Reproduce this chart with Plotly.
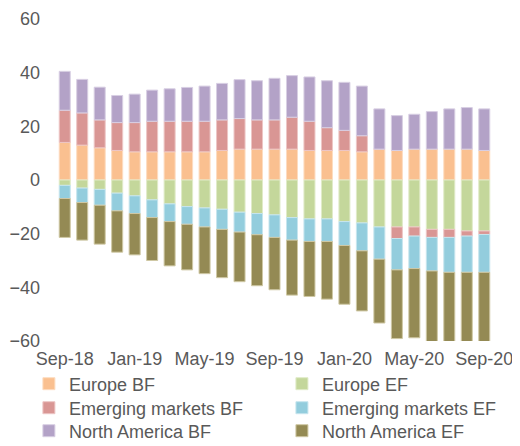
import plotly.graph_objects as go

months = ["Sep-18", "Oct-18", "Nov-18", "Dec-18", "Jan-19", "Feb-19", "Mar-19", "Apr-19",
          "May-19", "Jun-19", "Jul-19", "Aug-19", "Sep-19", "Oct-19", "Nov-19", "Dec-19",
          "Jan-20", "Feb-20", "Mar-20", "Apr-20", "May-20", "Jun-20", "Jul-20", "Aug-20", "Sep-20"]
tick_labels = ["Sep-18", "Jan-19", "May-19", "Sep-19", "Jan-20", "May-20", "Sep-20"]

europe_bf = [14.0, 13.0, 12.0, 11.0, 10.5, 10.5, 10.5, 10.5, 10.5, 11.0, 11.5, 11.5, 11.5,
             11.5, 11.0, 11.0, 11.0, 10.5, 11.5, 11.0, 11.5, 11.5, 11.5, 11.5, 11.0]
europe_ef = [-2.0, -3.0, -3.5, -4.9, -5.9, -7.4, -8.9, -9.9, -10.4, -10.9, -12.0, -12.5, -13.0,
             -14.0, -14.5, -14.5, -15.5, -16.0, -17.5, -17.5, -17.5, -18.4, -18.4, -19.0, -19.0]
em_bf = [12.0, 12.0, 10.4, 10.4, 10.9, 11.4, 11.4, 11.4, 11.4, 11.4, 11.4, 10.9, 10.9,
         11.9, 10.9, 8.5, 7.5, 6.0, 0.0, -4.3, -3.4, -3.0, -3.0, -1.9, -1.3]
em_ef = [-4.9, -5.4, -5.9, -6.6, -6.6, -6.6, -6.6, -6.6, -7.1, -7.5, -7.4, -7.9, -8.4,
         -8.4, -8.4, -8.4, -8.9, -10.4, -12.0, -11.7, -12.1, -12.5, -13.0, -13.5, -14.1]
na_bf = [14.5, 12.5, 12.2, 10.1, 10.6, 11.6, 12.1, 12.6, 13.1, 13.6, 14.5, 14.6, 15.5,
         15.5, 16.5, 17.5, 17.9, 18.5, 15.0, 13.0, 13.0, 14.0, 15.0, 15.5, 15.5]
na_ef = [-14.5, -14.0, -14.5, -15.4, -15.4, -16.0, -16.5, -17.0, -17.4, -18.0, -18.5, -19.0, -19.5,
         -20.5, -20.5, -21.5, -21.9, -22.4, -23.8, -25.6, -25.8, -27.5, -27.0, -27.0, -27.0]

series = [
    ("Europe BF", europe_bf, "#FAC090", "#FDDCC0"),
    ("Europe EF", europe_ef, "#C4D79B", "#E0EBC8"),
    ("Emerging markets BF", em_bf, "#D99694", "#EDC6C5"),
    ("Emerging markets EF", em_ef, "#93CDDD", "#C6E5EE"),
    ("North America BF", na_bf, "#B3A2C7", "#D8CFE3"),
    ("North America EF", na_ef, "#948A54", "#CFC8A4"),
]

font_family = "Liberation Sans, Arial, sans-serif"
grey = "#595959"

# one legend per entry, laid out as 2 columns x 3 rows
legend_ids = ["legend", "legend2", "legend3", "legend4", "legend5", "legend6"]
col_x = [-0.062, 0.517]
row_y = [-0.1335, -0.2081, -0.2795]

fig = go.Figure()
for i, (name, vals, col, edge) in enumerate(series):
    fig.add_trace(go.Bar(
        x=months, y=vals, name=name, legend=legend_ids[i],
        marker=dict(color=col, line=dict(color=edge, width=1)),
    ))

legend_layout = {}
for i, lid in enumerate(legend_ids):
    legend_layout[lid] = dict(
        x=col_x[i % 2], xanchor="left",
        y=row_y[i // 2], yanchor="middle",
        orientation="v",
        font=dict(family=font_family, size=18, color=grey),
        bgcolor="rgba(0,0,0,0)", borderwidth=0,
    )

fig.update_layout(
    width=512, height=438,
    barmode="relative",
    bargap=0.37,
    plot_bgcolor="white", paper_bgcolor="white",
    margin=dict(l=48, r=27, t=11, b=105, autoexpand=False),
    font=dict(family=font_family, size=18, color=grey),
    showlegend=True,
    **legend_layout,
)
fig.update_xaxes(
    type="category",
    tickmode="array", tickvals=tick_labels, ticktext=tick_labels,
    showgrid=False, zeroline=False, showline=False, ticks="",
    ticklabelstandoff=5,
    tickfont=dict(size=18, color=grey),
)
fig.update_yaxes(
    range=[-60, 60], tickvals=[-60, -40, -20, 0, 20, 40, 60],
    showgrid=False, zeroline=False, showline=False, ticks="",
    ticklabelstandoff=15, ticklabeloverflow="allow",
    tickfont=dict(size=18, color=grey),
)

fig.write_html("out.html")
